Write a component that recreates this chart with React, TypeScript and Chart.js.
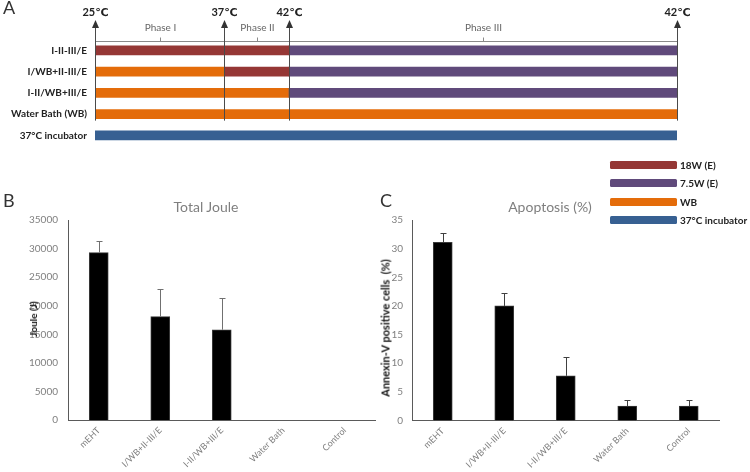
import React, { useEffect, useRef } from "react";
import { Chart, registerables } from "chart.js";

Chart.register(...registerables);

// ---------- Panel A data (timeline, minutes) ----------
const rowLabels = ["I-II-III/E", "I/WB+II-III/E", "I-II/WB+III/E", "Water Bath (WB)", "37°C incubator"];
const tempMarks = [0, 20, 30, 90];
const tempLabels = ["25℃", "37℃", "42℃", "42℃"];
const phaseBounds = [0, 20, 30, 90];
const phaseNames = ["Phase I", "Phase II", "Phase III"];
const seg18W = [[0, 30], [20, 30], null, null, null];
const seg75W = [[30, 90], [30, 90], [30, 90], null, null];
const segWB = [null, [0, 20], [0, 30], [0, 90], null];
const segInc = [null, null, null, null, [0, 90]];
const legendLabels = ["18W (E)", "7.5W (E)", "WB", "37°C incubator"];
const legendColors = ["#953735", "#604A7B", "#E46C0A", "#376092"];

// ---------- Panel B / C data ----------
const groups = ["mEHT", "I/WB+II-III/E", "I-II/WB+III/E", "Water Bath", "Control"];
const jouleValues = [29300, 18100, 15800, 0, 0];
const jouleErrors = [2050, 4800, 5600, 0, 0];
const apoptosisValues = [31.1, 20.0, 7.8, 2.5, 2.5];
const apoptosisErrors = [1.6, 2.3, 3.3, 1.0, 1.0];

const FONT = "Lato, 'DejaVu Sans', sans-serif";

const timelinePlugin = {
  id: "timelineDecor",
  afterDatasetsDraw(chart: any) {
    const { ctx } = chart;
    const x = chart.scales.x;
    const y = chart.scales.y;
    const lineBottom = y.getPixelForValue(3) + 6.5;
    const tip = 20;
    ctx.save();
    // bracket
    const by = 41.5;
    ctx.strokeStyle = "#8a8a8a";
    ctx.lineWidth = 1;
    ctx.beginPath();
    ctx.moveTo(x.getPixelForValue(phaseBounds[0]), by);
    ctx.lineTo(x.getPixelForValue(phaseBounds[phaseBounds.length - 1]), by);
    ctx.stroke();
    ctx.font = `10px ${FONT}`;
    ctx.fillStyle = "#666";
    ctx.textAlign = "center";
    ctx.textBaseline = "middle";
    for (let i = 0; i < phaseNames.length; i++) {
      const mid = Math.round((x.getPixelForValue(phaseBounds[i]) + x.getPixelForValue(phaseBounds[i + 1])) / 2) + 0.5;
      ctx.beginPath();
      ctx.moveTo(mid, by);
      ctx.lineTo(mid, by - 4);
      ctx.stroke();
      ctx.fillText(phaseNames[i], mid, 28);
    }
    // temperature arrows
    ctx.strokeStyle = "#4a4a4a";
    ctx.fillStyle = "#333";
    tempMarks.forEach((t, i) => {
      const px = Math.round(x.getPixelForValue(t)) + 0.5;
      ctx.beginPath();
      ctx.moveTo(px, tip + 6);
      ctx.lineTo(px, lineBottom);
      ctx.stroke();
      ctx.beginPath();
      ctx.moveTo(px, tip);
      ctx.lineTo(px - 3.5, tip + 8);
      ctx.lineTo(px + 3.5, tip + 8);
      ctx.closePath();
      ctx.fill();
      ctx.font = `bold 11px ${FONT}`;
      ctx.fillStyle = "#222";
      ctx.fillText(tempLabels[i], px, 12);
      ctx.fillStyle = "#333";
    });
    ctx.restore();
  },
};

const makeErrorPlugin = (errors: number[], values: number[], color: string) => ({
  id: "errorBars",
  afterDatasetsDraw(chart: any) {
    const { ctx } = chart;
    const y = chart.scales.y;
    const meta = chart.getDatasetMeta(0);
    ctx.save();
    ctx.strokeStyle = color;
    ctx.lineWidth = 1;
    meta.data.forEach((bar: any, i: number) => {
      if (!errors[i]) return;
      const px = Math.round(bar.x) + 0.5;
      const y0 = y.getPixelForValue(values[i]);
      const y1 = Math.round(y.getPixelForValue(values[i] + errors[i])) + 0.5;
      ctx.beginPath();
      ctx.moveTo(px, y0);
      ctx.lineTo(px, y1);
      ctx.moveTo(px - 3, y1);
      ctx.lineTo(px + 3, y1);
      ctx.stroke();
    });
    ctx.restore();
  },
});

function barConfig(values: number[], errors: number[], max: number, step: number, yWidth: number, yPad: number, xHeight: number, padRight: number, errColor: string) {
  return {
    type: "bar" as const,
    data: {
      labels: groups,
      datasets: [
        {
          data: values,
          backgroundColor: "#000",
          borderColor: "#3a3a3a",
          borderWidth: 1,
          barThickness: 19,
        },
      ],
    },
    options: {
      animation: false,
      responsive: false,
      layout: { padding: { top: 30, right: padRight, left: 0, bottom: 0 } },
      plugins: { legend: { display: false }, tooltip: { enabled: false }, title: { display: false } },
      scales: {
        x: {
          grid: { display: false, drawTicks: false },
          border: { color: "#5a5a5a", width: 1 },
          ticks: { minRotation: 45, maxRotation: 45, padding: 5, color: "#7f7f7f", font: { family: FONT, size: 9 } },
          afterFit: (s: any) => { s.height = xHeight; },
        },
        y: {
          min: 0,
          max,
          grid: { display: false, drawTicks: false },
          border: { color: "#5a5a5a", width: 1 },
          ticks: {
            stepSize: step,
            padding: yPad,
            color: "#7f7f7f",
            font: { family: FONT, size: 10 },
            callback: (v: any) => String(v),
          },
          afterFit: (s: any) => { s.width = yWidth; },
        },
      },
    },
    plugins: [makeErrorPlugin(errors, values, errColor)],
  };
}

export default function App() {
  const aRef = useRef<HTMLCanvasElement>(null);
  const bRef = useRef<HTMLCanvasElement>(null);
  const cRef = useRef<HTMLCanvasElement>(null);

  useEffect(() => {
    const mk = (data: any, color: string) => ({
      data,
      backgroundColor: color,
      grouped: false,
      barThickness: 9,
      borderSkipped: false,
    });
    const a = new Chart(aRef.current as HTMLCanvasElement, {
      type: "bar",
      data: {
        labels: rowLabels,
        datasets: [
          mk(seg18W, legendColors[0]),
          mk(seg75W, legendColors[1]),
          mk(segWB, legendColors[2]),
          mk(segInc, legendColors[3]),
        ] as any,
      },
      options: {
        indexAxis: "y",
        animation: false,
        responsive: false,
        layout: { padding: { top: 39.75, bottom: 7.75, right: 73, left: 0 } },
        plugins: { legend: { display: false }, tooltip: { enabled: false } },
        scales: {
          x: { type: "linear", min: 0, max: 90, display: false },
          y: {
            grid: { display: false, drawTicks: false },
            border: { display: false },
            ticks: { padding: 8, color: "#222", font: { family: FONT, size: 10, weight: "bold" } },
            afterFit: (s: any) => { s.width = 95; },
          },
        },
      } as any,
      plugins: [timelinePlugin],
    });
    const b = new Chart(bRef.current as HTMLCanvasElement, barConfig(jouleValues, jouleErrors, 35000, 5000, 68, 10, 52, 0.5, "#707070") as any);
    const c = new Chart(cRef.current as HTMLCanvasElement, barConfig(apoptosisValues, apoptosisErrors, 35, 5, 37, 9, 51.5, 30.5, "#404040") as any);
    return () => {
      a.destroy();
      b.destroy();
      c.destroy();
    };
  }, []);

  const abs = (l: number, t: number, extra: any = {}) => ({ position: "absolute" as const, left: l, top: t, ...extra });
  const rotated = (cx: number, cy: number, size: number) => ({
    position: "absolute" as const,
    left: cx,
    top: cy,
    transform: "translate(-50%, -50%) rotate(-90deg)",
    whiteSpace: "nowrap" as const,
    font: `bold ${size}px ${FONT}`,
    color: "#111",
    lineHeight: 1,
  });
  const legendTops = [161, 179, 198, 216];

  return (
    <div style={{ position: "absolute", left: 0, top: 0, width: 750, height: 472, background: "#fff", overflow: "hidden", fontFamily: FONT }}>
      <canvas ref={aRef} width={750} height={160} style={abs(0, 0, { width: 750, height: 160 })} />
      <canvas ref={bRef} width={376} height={282} style={abs(0, 190, { width: 376, height: 282 })} />
      <canvas ref={cRef} width={375} height={282} style={abs(375, 190, { width: 375, height: 282 })} />

      <div style={abs(3, -4, { font: `18px ${FONT}`, color: "#333" })}>A</div>
      <div style={abs(3, 189, { font: `18px ${FONT}`, color: "#333" })}>B</div>
      <div style={abs(380, 189, { font: `18px ${FONT}`, color: "#333" })}>C</div>

      <div style={abs(206, 206, { transform: "translate(-50%, -50%)", font: `14px ${FONT}`, color: "#7f7f7f", whiteSpace: "nowrap" })}>Total Joule</div>
      <div style={abs(550, 206, { transform: "translate(-50%, -50%)", font: `14px ${FONT}`, color: "#7f7f7f", whiteSpace: "nowrap" })}>Apoptosis (%)</div>

      <div style={rotated(33, 319, 10)}>Joule (J)</div>
      <div style={rotated(385, 328, 11)}>Annexin-V positive cells&nbsp;&nbsp;(%)</div>

      {legendLabels.map((lab, i) => (
        <React.Fragment key={lab}>
          <div style={abs(610, legendTops[i], { width: 67, height: 7.5, background: legendColors[i], borderRadius: 1.5 })} />
          <div style={abs(680, legendTops[i] + 3.75, { transform: "translateY(-50%)", font: `bold 10px ${FONT}`, color: "#222", whiteSpace: "nowrap" })}>{lab}</div>
        </React.Fragment>
      ))}
    </div>
  );
}
